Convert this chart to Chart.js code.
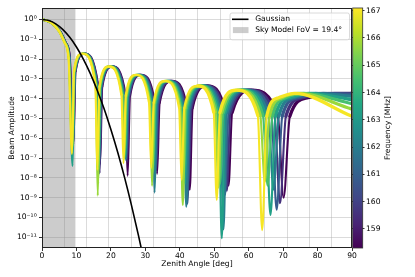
<!DOCTYPE html>
<html>
<head>
<meta charset="utf-8">
<script src="https://cdn.jsdelivr.net/npm/chart.js@4.4.0/dist/chart.umd.min.js"></script>
<style>
  html, body { margin: 0; padding: 0; background: #fff; }
  #wrap { width: 415px; height: 277px; }
</style>
</head>
<body>
<div id="wrap"><canvas id="beamChart" width="415" height="277"></canvas></div>
<script>
// axis ticks
const zenithTicks = [0, 10, 20, 30, 40, 50, 60, 70, 80, 90];
const amplitudeTicks = [1e0, 1e-1, 1e-2, 1e-3, 1e-4, 1e-5, 1e-6, 1e-7, 1e-8, 1e-9, 1e-10, 1e-11];
const freqTicks = [159, 160, 161, 162, 163, 164, 165, 166, 167];
const freqRange = [158.3, 167.1];
const skyFov = 19.4;

// gaussian reference beam
const gaussAngle = [0, 2, 4, 6, 8, 10, 12, 14, 16, 18, 20, 22, 24, 26, 28, 30];
const gaussAmp = [1, 0.88, 0.6, 0.316, 0.129, 0.041, 1.0e-2, 1.9e-3, 2.75e-4, 3.2e-5, 2.75e-6, 1.9e-7, 1.0e-8, 4.0e-10, 1.26e-11, 3.1e-13];

// beam per frequency: same lobe levels, shifted angles (null = null depth, per curve)
const beamFreqs = [158.3, 159.54, 160.79, 162.03, 163.27, 164.51, 165.76, 167.0];
const lobeLevels = [1, 0.69, 0.255, 0.067, 0.0111, null,
  2.5e-3, 1.9e-2, 5.2e-4, null,
  4.1e-4, 4.2e-3, 1.6e-4, null,
  1.4e-4, 1.6e-3, 6.9e-5, null,
  6.2e-5, 7.9e-4, 3.6e-5, null,
  3.3e-5, 4.4e-4, 2.1e-5, null,
  2.0e-5, 2.7e-4, 1.4e-5, null,
  1.3e-5];
const beamAngles = [
  [0, 2.84, 5.22, 6.88, 8.08, 9.11, 9.73, 12.25, 16.22, 16.85, 17.48, 20.35, 24.20, 24.86, 25.53, 28.70, 32.69, 33.41, 34.14, 37.69, 42.09, 42.89, 43.70, 47.92, 53.17, 54.15, 55.19, 60.76, 68.46, 70.14, 71.96],
  [0, 2.82, 5.18, 6.84, 8.03, 9.05, 9.67, 12.17, 16.11, 16.74, 17.37, 20.22, 24.04, 24.69, 25.36, 28.50, 32.45, 33.17, 33.89, 37.41, 41.76, 42.56, 43.36, 47.52, 52.70, 53.66, 54.68, 60.15, 67.51, 69.10, 70.81],
  [0, 2.81, 5.15, 6.79, 7.97, 8.99, 9.60, 12.09, 16.01, 16.63, 17.25, 20.08, 23.87, 24.52, 25.18, 28.30, 32.22, 32.93, 33.64, 37.13, 41.43, 42.22, 43.01, 47.12, 52.22, 53.17, 54.18, 59.53, 66.61, 68.13, 69.75],
  [0, 2.79, 5.11, 6.75, 7.92, 8.93, 9.54, 12.01, 15.90, 16.52, 17.14, 19.94, 23.71, 24.35, 25.01, 28.10, 31.99, 32.69, 33.39, 36.85, 41.11, 41.89, 42.67, 46.72, 51.75, 52.68, 53.67, 58.91, 65.75, 67.20, 68.75],
  [0, 2.77, 5.08, 6.71, 7.87, 8.87, 9.48, 11.93, 15.79, 16.41, 17.02, 19.81, 23.54, 24.18, 24.83, 27.90, 31.75, 32.45, 33.15, 36.57, 40.78, 41.55, 42.32, 46.33, 51.28, 52.19, 53.16, 58.30, 64.93, 66.33, 67.81],
  [0, 2.75, 5.05, 6.66, 7.82, 8.82, 9.42, 11.85, 15.69, 16.30, 16.90, 19.67, 23.38, 24.01, 24.66, 27.70, 31.52, 32.21, 32.90, 36.29, 40.45, 41.21, 41.98, 45.93, 50.80, 51.70, 52.66, 57.68, 64.15, 65.49, 66.91],
  [0, 2.73, 5.01, 6.62, 7.76, 8.76, 9.35, 11.77, 15.58, 16.19, 16.79, 19.54, 23.21, 23.84, 24.48, 27.50, 31.28, 31.96, 32.65, 36.01, 40.13, 40.88, 41.63, 45.53, 50.33, 51.21, 52.15, 57.06, 63.39, 64.69, 66.05],
  [0, 2.71, 4.98, 6.57, 7.71, 8.70, 9.29, 11.69, 15.47, 16.07, 16.67, 19.40, 23.05, 23.67, 24.31, 27.30, 31.05, 31.72, 32.41, 35.73, 39.80, 40.54, 41.29, 45.13, 49.85, 50.72, 51.64, 56.44, 62.66, 63.92, 65.24]
];
const nullDepths = [
  [5.0e-7, 5.0e-8, 1.26e-8, 1.6e-8, 2.5e-9, 4.0e-9, 1.0e-9],
  [4.0e-7, 1.7e-8, 6.3e-8, 2.5e-8, 6.3e-9, 2.2e-9, 5.2e-10],
  [3.2e-7, 4.0e-8, 1.0e-7, 2.0e-8, 5.0e-10, 1.4e-9, 2.5e-10],
  [3.5e-7, 3.2e-8, 7.9e-8, 1.8e-9, 3.5e-10, 2.5e-11, 2.5e-9],
  [4.0e-8, 2.5e-8, 1.26e-7, 2.5e-8, 5.0e-9, 8.9e-12, 1.35e-10],
  [2.5e-7, 5.4e-9, 1.0e-7, 2.0e-8, 1.0e-8, 5.0e-9, 4.0e-9],
  [2.0e-7, 1.26e-9, 8.9e-8, 3.9e-9, 4.3e-10, 3.2e-9, 6.3e-9],
  [1.6e-7, 2.5e-8, 5.5e-8, 3.2e-8, 7.9e-9, 7.6e-10, 2.3e-11]
];
const tailAngles = [
  [77.22, 90], [75.62, 85.0, 90], [74.21, 81.71, 90], [72.92, 79.43, 90],
  [71.74, 77.59, 90], [70.64, 75.99, 90], [69.61, 74.57, 90], [68.65, 73.29, 90]
];
const tailLevels = [
  [1.12e-4, 1.86e-4], [1.12e-4, 1.86e-4, 1.84e-4], [1.12e-4, 1.86e-4, 1.65e-4], [1.12e-4, 1.86e-4, 1.3e-4],
  [1.12e-4, 1.86e-4, 8.9e-5], [1.12e-4, 1.86e-4, 5.6e-5], [1.12e-4, 1.86e-4, 3.0e-5], [1.12e-4, 1.86e-4, 1.3e-5]
];

// styling
const viridisStops = ['#440154', '#482475', '#414487', '#355f8d', '#2a788e', '#21918c', '#22a884', '#44bf70', '#7ad151', '#bddf26', '#fde725'];
const gridColor = 'rgba(176,176,176,0.45)';
const fontFamily = 'DejaVu Sans';
const fontSize = 7.6;

function hexRgb(h) {
  return [parseInt(h.slice(1, 3), 16), parseInt(h.slice(3, 5), 16), parseInt(h.slice(5, 7), 16)];
}
function viridis(t) {
  t = Math.min(1, Math.max(0, t));
  const p = t * 10, i = Math.min(9, Math.floor(p)), f = p - i;
  const a = hexRgb(viridisStops[i]), b = hexRgb(viridisStops[i + 1]);
  return 'rgb(' + a.map((v, j) => Math.round(v + (b[j] - v) * f)).join(',') + ')';
}
const supMap = {'-': '\u207b', '0': '\u2070', '1': '\u00b9', '2': '\u00b2', '3': '\u00b3', '4': '\u2074',
  '5': '\u2075', '6': '\u2076', '7': '\u2077', '8': '\u2078', '9': '\u2079'};
function powLabel(v) {
  const e = String(Math.round(Math.log10(v)));
  return '10' + e.split('').map(c => supMap[c]).join('');
}

// thicker ribbon on the wide outer lobes, thin spikes at the nulls
function segWidth(c) {
  const deep = c.p0.parsed.y < 1e-6 || c.p1.parsed.y < 1e-6;
  if (deep) return 2.1;
  return c.p0.parsed.x > 45 ? 3.3 : 2.4;
}

const beamSets = beamFreqs.map((f, k) => {
  const pts = [];
  let n = 0;
  beamAngles[k].forEach((a, i) => {
    const lvl = lobeLevels[i] === null ? nullDepths[k][n++] : lobeLevels[i];
    pts.push({x: a, y: lvl});
  });
  tailAngles[k].forEach((a, i) => pts.push({x: a, y: tailLevels[k][i]}));
  return {
    label: f + ' MHz',
    data: pts,
    borderColor: viridis((f - freqRange[0]) / (freqRange[1] - freqRange[0])),
    borderWidth: 2.3,
    borderJoinStyle: 'round',
    borderCapStyle: 'round',
    segment: { borderWidth: segWidth },
    pointRadius: 0,
    fill: false,
    cubicInterpolationMode: 'monotone'
  };
});

const gaussSet = {
  label: 'Gaussian',
  data: gaussAngle.map((a, i) => ({x: a, y: gaussAmp[i]})),
  borderColor: '#000',
  borderWidth: 1.6,
  pointRadius: 0,
  fill: false,
  cubicInterpolationMode: 'monotone'
};

const gridStep = skyFov / 3;
const gridTicks = [];
for (let g = gridStep; g < 90; g += gridStep) gridTicks.push({value: g});

const skyShade = {
  id: 'skyShade',
  beforeDatasetsDraw(chart) {
    const {ctx, chartArea: ca, scales} = chart;
    const x0 = scales.x.getPixelForValue(0), x1 = scales.x.getPixelForValue(skyFov / 2);
    ctx.save();
    ctx.fillStyle = 'rgba(128,128,128,0.4)';
    ctx.fillRect(x0, ca.top, x1 - x0, ca.bottom - ca.top);
    ctx.restore();
  }
};

const decorations = {
  id: 'decorations',
  afterDraw(chart) {
    const {ctx, chartArea: ca, scales} = chart;
    ctx.save();
    // frame
    ctx.strokeStyle = '#222';
    ctx.lineWidth = 1;
    ctx.strokeRect(ca.left + 0.5, ca.top + 0.5, ca.right - ca.left - 1, ca.bottom - ca.top - 1);

    // colorbar
    const cb = scales.cb;
    const cx = ca.right + 0.7, cw = 10;
    const g = ctx.createLinearGradient(0, cb.getPixelForValue(freqRange[0]), 0, cb.getPixelForValue(freqRange[1]));
    viridisStops.forEach((c, i) => g.addColorStop(i / 10, c));
    ctx.fillStyle = g;
    ctx.fillRect(cx, ca.top, cw, ca.bottom - ca.top);
    ctx.strokeStyle = '#333';
    ctx.lineWidth = 0.8;
    ctx.strokeRect(cx, ca.top, cw, ca.bottom - ca.top);

    ctx.font = fontSize + 'px "' + fontFamily + '"';
    ctx.fillStyle = '#000';
    ctx.textAlign = 'center';
    ctx.textBaseline = 'middle';
    ctx.save();
    ctx.translate(388.5, (ca.top + ca.bottom) / 2);
    ctx.rotate(-Math.PI / 2);
    ctx.fillText('Frequency [MHz]', 0, 0);
    ctx.restore();

    // legend
    const bw = 119.5, bh = 26.8;
    const bx = ca.right - 3 - bw, by = ca.top + 4.5;
    ctx.beginPath();
    ctx.roundRect(bx + 0.5, by + 0.5, bw, bh, 2);
    ctx.fillStyle = 'rgba(255,255,255,0.8)';
    ctx.fill();
    ctx.strokeStyle = '#d0d0d0';
    ctx.lineWidth = 0.8;
    ctx.stroke();
    ctx.beginPath();
    ctx.moveTo(bx + 2.5, by + 6.8);
    ctx.lineTo(bx + 19, by + 6.8);
    ctx.strokeStyle = '#000';
    ctx.lineWidth = 1.6;
    ctx.stroke();
    ctx.fillStyle = 'rgba(128,128,128,0.4)';
    ctx.fillRect(bx + 3.4, by + 14.6, 15.6, 6);
    ctx.fillStyle = '#000';
    ctx.textAlign = 'left';
    ctx.fillText('Gaussian', bx + 25.7, by + 6.8);
    ctx.fillText('Sky Model FoV = ' + skyFov + '\u00b0', bx + 25.7, by + 18);
    ctx.restore();
  }
};

Chart.defaults.font.family = fontFamily;
Chart.defaults.font.size = fontSize;
Chart.defaults.color = '#000';

new Chart(document.getElementById('beamChart'), {
  type: 'line',
  data: { datasets: [gaussSet, ...beamSets.slice().reverse()] },
  options: {
    responsive: false,
    animation: false,
    devicePixelRatio: 1,
    layout: { padding: { top: 8, right: 0, bottom: 0, left: 0 } },
    plugins: { legend: { display: false }, tooltip: { enabled: false } },
    scales: {
      x: {
        type: 'linear', position: 'bottom', min: 0, max: 90,
        afterBuildTicks: s => { s.ticks = zenithTicks.map(v => ({value: v})); },
        afterFit: s => { s.height = 29; },
        ticks: { autoSkip: false, maxRotation: 0, padding: 0, callback: v => String(v) },
        grid: { drawOnChartArea: false, tickLength: 3, tickColor: '#333' },
        border: { display: false },
        title: { display: true, text: 'Zenith Angle [deg]', padding: { top: 0, bottom: 8.1 } }
      },
      xg: {
        type: 'linear', position: 'bottom', min: 0, max: 90,
        afterBuildTicks: s => { s.ticks = gridTicks.slice(); },
        afterFit: s => { s.height = 0; },
        ticks: { display: false },
        grid: { color: gridColor, lineWidth: 1, drawTicks: false },
        border: { display: false }
      },
      y: {
        type: 'logarithmic', position: 'left', min: 2.88e-12, max: 3.81,
        afterBuildTicks: s => { s.ticks = amplitudeTicks.map(v => ({value: v})); },
        afterFit: s => { s.width = 42; },
        ticks: { autoSkip: false, padding: 2.3, callback: v => powLabel(v) },
        grid: { color: gridColor, lineWidth: 1, tickLength: 3, tickColor: '#333' },
        border: { display: false },
        title: { display: true, text: 'Beam Amplitude', padding: { top: 7.1, bottom: 0 } }
      },
      cb: {
        type: 'linear', position: 'right', min: freqRange[0], max: freqRange[1],
        afterBuildTicks: s => { s.ticks = freqTicks.map(v => ({value: v})); },
        afterFit: s => { s.width = 63; },
        ticks: { autoSkip: false, padding: 1.5, callback: v => String(v) },
        grid: { drawOnChartArea: false, tickLength: 12.5, tickColor: '#333' },
        border: { display: false }
      }
    }
  },
  plugins: [skyShade, decorations]
});
</script>
</body>
</html>
